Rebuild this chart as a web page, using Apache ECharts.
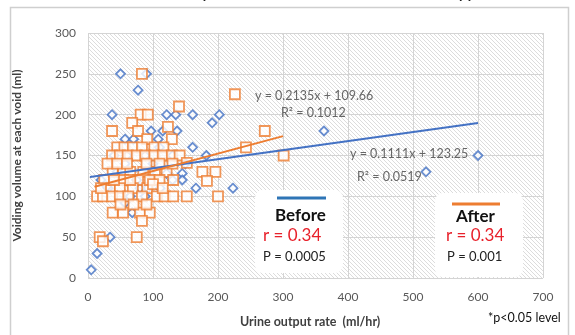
<!DOCTYPE html>
<html><head><meta charset="utf-8">
<script src="https://cdn.jsdelivr.net/npm/echarts@6/dist/echarts.min.js"></script>
<style>html,body{margin:0;padding:0;background:#fff;}#c{width:575px;height:335px;}</style>
</head><body><div id="c"></div>
<script>
// Before (blue diamonds): [urine output rate, voiding volume]
var beforeData = [[5,10],[14,30],[34,50],[50,250],[90,250],[77,230],[37,200],[121,200],[135,200],[161,200],[202,200],[191,190],[97,180],[115,180],[137,180],[57,170],[70,170],[108,170],[161,160],[182,150],[166,110],[223,110],[111,110],[145,128],[145,120],[121,128],[88,100],[31,110],[68,80],[57,92],[29,112],[92,110],[57,140],[88,150],[363,180],[600,150],[520,130],[60,150],[100,140],[130,120],[75,120],[45,130],[110,160],[130,150],[80,110],[95,130],[150,140],[40,150],[20,120],[65,100]];
// After (orange squares)
var afterData = [[83,250],[226,225],[140,210],[81,200],[92,200],[68,190],[37,180],[77,180],[123,185],[91,170],[129,170],[272,180],[45,160],[56,160],[69,160],[83,160],[102,160],[116,160],[243,160],[37,150],[49,150],[61,150],[75,150],[88,150],[102,150],[115,150],[129,150],[141,150],[301,150],[152,141],[38,130],[54,130],[65,130],[85,130],[103,130],[121,130],[176,130],[196,130],[54,120],[77,120],[131,120],[183,119],[34,110],[49,110],[69,110],[91,110],[14,100],[23,100],[37,100],[49,100],[62,100],[83,100],[106,100],[118,100],[131,100],[152,100],[200,100],[38,80],[54,80],[80,80],[95,80],[83,70],[18,50],[23,45],[75,50],[30,140],[45,140],[60,140],[90,140],[110,140],[130,140],[25,120],[40,120],[65,120],[95,120],[110,120],[20,110],[100,115],[115,110],[50,90],[70,90],[90,90]];
// trend lines: [slope, intercept], x range
var beforeTrend = [0.1111, 123.25];
var beforeTrendRange = [3, 600];
var afterTrend = [0.2135, 109.66];
var afterTrendRange = [10, 300];
var xTicks = [0,100,200,300,400,500,600,700];
var yTicks = [0,50,100,150,200,250,300];

function trendLine(t, r){ return [[r[0], t[0]*r[0]+t[1]], [r[1], t[0]*r[1]+t[1]]]; }

// hatch pattern
var pc = document.createElement('canvas'); pc.width = 4; pc.height = 4;
var g = pc.getContext('2d');
g.fillStyle = '#ffffff'; g.fillRect(0,0,4,4);
g.strokeStyle = '#dcdcdc'; g.lineWidth = 1;
g.beginPath(); g.moveTo(0,0); g.lineTo(4,4); g.stroke();
g.beginPath(); g.moveTo(-1,3); g.lineTo(1,5); g.stroke();
g.beginPath(); g.moveTo(3,-1); g.lineTo(5,1); g.stroke();

var FONT = 'Lato';
var chart = echarts.init(document.getElementById('c'), null, {renderer:'canvas'});
var option = {
  animation: false,
  backgroundColor: '#ffffff',
  textStyle: {fontFamily: FONT},
  grid: {left: 88, right: 32, top: 33, bottom: 57, show: true, backgroundColor: {image: pc, repeat: 'repeat'}, borderWidth: 0},
  xAxis: {type: 'value', min: xTicks[0], max: xTicks[xTicks.length-1], interval: 100,
    axisLine: {show: false}, axisTick: {show: false},
    axisLabel: {color: '#595959', fontSize: 12, fontFamily: FONT, margin: 13},
    splitLine: {lineStyle: {color: '#d4d4d4', width: 1}}},
  yAxis: {type: 'value', min: yTicks[0], max: yTicks[yTicks.length-1], interval: 50,
    axisLine: {show: false}, axisTick: {show: false},
    axisLabel: {color: '#595959', fontSize: 12, fontFamily: FONT, margin: 12},
    splitLine: {lineStyle: {color: '#d4d4d4', width: 1}},
    name: 'Voiding volume at each void (ml)', nameLocation: 'middle', nameGap: 65,
    nameTextStyle: {color: '#404040', fontSize: 12, fontWeight: 'bold', fontFamily: FONT}},
  series: [
    {type: 'scatter', name: 'Before', data: beforeData, symbol: 'diamond', symbolSize: [9,9],
      itemStyle: {color: '#ffffff', borderColor: '#4472C4', borderWidth: 1.8}, z: 2},
    {type: 'scatter', name: 'After', data: afterData, symbol: 'rect', symbolSize: [10,10],
      itemStyle: {color: '#ffffff', borderColor: '#ED7D31', borderWidth: 1.8}, z: 3},
    {type: 'line', data: trendLine(beforeTrend, beforeTrendRange), symbol: 'none',
      lineStyle: {color: '#4472C4', width: 2}, z: 5, silent: true},
    {type: 'line', data: trendLine(afterTrend, afterTrendRange), symbol: 'none',
      lineStyle: {color: '#ED7D31', width: 2}, z: 5, silent: true}
  ],
  graphic: [
    {type: 'rect', left: 8, top: 5, shape: {width: 558, height: 345}, style: {fill: 'none', stroke: '#cfcfcf', lineWidth: 1.5}, z: 0, silent: true},
    {type: 'text', left: 5, top: -13, style: {text: 'correlation between diurnal adaptation before and after the add-on therapy', font: 'bold 14px ' + FONT, fill: '#222'}},
    {type: 'text', left: 255, top: 89, style: {text: 'y = 0.2135x + 109.66', font: '12.5px ' + FONT, fill: '#666666'}, z: 10},
    {type: 'text', left: 281, top: 106, style: {text: 'R² = 0.1012', font: '12.5px ' + FONT, fill: '#666666'}, z: 10},
    {type: 'text', left: 350, top: 147, style: {text: 'y = 0.1111x + 123.25', font: '12.5px ' + FONT, fill: '#666666'}, z: 10},
    {type: 'text', left: 357, top: 170, style: {text: 'R² = 0.0519', font: '12.5px ' + FONT, fill: '#666666'}, z: 10},
    {type: 'rect', left: 255, top: 190, shape: {width: 88, height: 83, r: 8}, style: {fill: '#ffffff'}, z: 10},
    {type: 'line', shape: {x1: 277, y1: 198, x2: 326, y2: 198}, style: {stroke: '#2E75B6', lineWidth: 3}, z: 11},
    {type: 'text', left: 275, top: 207, style: {text: 'Before', font: 'bold 17px ' + FONT, fill: '#111'}, z: 11},
    {type: 'text', left: 263, top: 227, style: {text: 'r = 0.34', font: '17px ' + FONT, fill: '#E8212B'}, z: 11},
    {type: 'text', left: 263, top: 250, style: {text: 'P = 0.0005', font: '13px ' + FONT, fill: '#222'}, z: 11},
    {type: 'rect', left: 435, top: 193, shape: {width: 88, height: 84, r: 8}, style: {fill: '#ffffff'}, z: 10},
    {type: 'line', shape: {x1: 452, y1: 204, x2: 500, y2: 204}, style: {stroke: '#ED7D31', lineWidth: 3}, z: 11},
    {type: 'text', left: 456, top: 208, style: {text: 'After', font: 'bold 17px ' + FONT, fill: '#111'}, z: 11},
    {type: 'text', left: 446, top: 227, style: {text: 'r = 0.34', font: '17px ' + FONT, fill: '#E8212B'}, z: 11},
    {type: 'text', left: 447, top: 250, style: {text: 'P = 0.001', font: '13px ' + FONT, fill: '#222'}, z: 11},
    {type: 'text', left: 240, top: 315, style: {text: 'Urine output rate  (ml/hr)', font: 'bold 12.5px ' + FONT, fill: '#404040'}},
    {type: 'text', left: 488, top: 311, style: {text: '*p<0.05 level', font: '12.5px ' + FONT, fill: '#111'}}
  ]
};
chart.setOption(option);
</script></body></html>
